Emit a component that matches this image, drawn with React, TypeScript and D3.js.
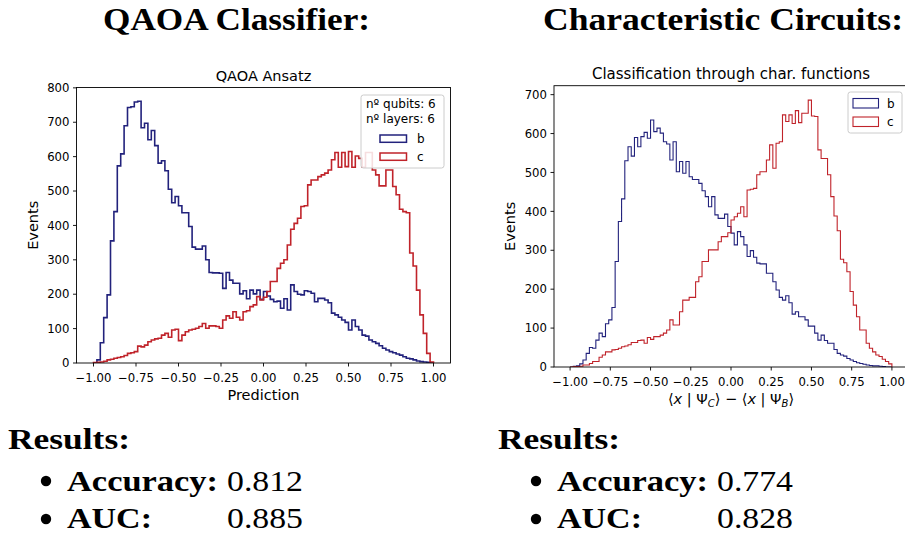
import React from "react";
import * as d3 from "d3";

// Histogram binning: 100 equal bins on [-1, 1]
const BIN_RANGE: [number, number] = [-1, 1];
const BIN_COUNT = 100;

// QAOA ansatz predictions, class b and class c (counts per bin)
const qaoaB = [
  0, 9, 59, 132, 198, 355, 440, 573, 608, 690,
  743, 745, 759, 761, 684, 697, 649, 676, 632, 581,
  588, 559, 505, 466, 484, 457, 437, 437, 397, 337,
  331, 331, 340, 300, 263, 262, 262, 261, 217, 263,
  241, 232, 232, 201, 210, 187, 212, 201, 212, 185,
  208, 195, 185, 178, 180, 159, 187, 154, 227, 208,
  200, 198, 210, 208, 203, 178, 188, 188, 183, 175,
  145, 140, 133, 125, 118, 96, 125, 106, 96, 81,
  78, 67, 62, 57, 50, 43, 38, 33, 30, 26,
  23, 18, 14, 12, 9, 6, 4, 3, 2, 0,
];
const qaoaC = [
  1, 2, 3, 5, 9, 11, 14, 16, 18, 22,
  28, 30, 33, 49, 47, 52, 62, 67, 70, 72,
  81, 86, 75, 96, 98, 65, 81, 91, 96, 98,
  101, 106, 115, 101, 108, 108, 106, 101, 125, 137,
  130, 149, 133, 125, 149, 152, 164, 169, 193, 183,
  191, 208, 237, 237, 275, 290, 300, 343, 389, 406,
  421, 455, 457, 518, 532, 532, 542, 547, 552, 561,
  591, 612, 569, 612, 571, 615, 569, 602, 595, 569,
  612, 612, 561, 547, 515, 515, 561, 561, 513, 489,
  447, 440, 437, 320, 282, 212, 140, 86, 28, 3,
];

// Characteristic-function classifier, class b and class c
const charB = [
  0, 2, 3, 8, 18, 35, 50, 48, 69, 87,
  78, 111, 121, 153, 271, 374, 432, 530, 566, 542,
  590, 566, 592, 603, 588, 635, 605, 614, 601, 579,
  573, 532, 579, 502, 528, 498, 528, 489, 482, 482,
  472, 453, 438, 412, 438, 391, 382, 382, 393, 361,
  344, 314, 348, 335, 314, 284, 299, 282, 267, 265,
  265, 241, 241, 219, 198, 179, 172, 183, 165, 136,
  142, 129, 129, 121, 105, 105, 87, 69, 82, 68,
  61, 61, 45, 35, 31, 28, 22, 18, 14, 11,
  9, 7, 5, 4, 3, 3, 2, 1, 0, 0,
];
const charC = [
  0, 1, 1, 2, 5, 5, 9, 14, 14, 25,
  31, 39, 39, 44, 45, 48, 52, 54, 57, 63,
  63, 68, 69, 61, 76, 71, 78, 78, 82, 87,
  95, 121, 108, 108, 142, 172, 172, 179, 179, 219,
  232, 271, 271, 301, 301, 301, 322, 335, 335, 345,
  378, 386, 395, 412, 386, 455, 457, 459, 494, 502,
  502, 532, 571, 511, 575, 579, 648, 631, 648, 626,
  659, 628, 652, 652, 686, 645, 644, 558, 536, 536,
  494, 438, 388, 350, 277, 268, 245, 194, 159, 129,
  95, 95, 61, 48, 39, 31, 27, 20, 14, 8,
];

const xTicks = [-1, -0.75, -0.5, -0.25, 0, 0.25, 0.5, 0.75, 1];
const qaoaYTicks = [0, 100, 200, 300, 400, 500, 600, 700, 800];
const charYTicks = [0, 100, 200, 300, 400, 500, 600, 700];

const seriesLabels = ["b", "c"];
const legendNotes = ["nº qubits: 6", "nº layers: 6"];

const BLUE = "#22227c";
const RED = "#c0232a";
const SANS = "'DejaVu Sans', sans-serif";
const SERIF = "'Liberation Serif', 'DejaVu Serif', serif";

const fmt = d3.format(".2f");

function stepPoints(counts: number[]): [number, number][] {
  const w = (BIN_RANGE[1] - BIN_RANGE[0]) / BIN_COUNT;
  const pts: [number, number][] = [[BIN_RANGE[0], 0]];
  counts.forEach((c, i) => {
    const x0 = BIN_RANGE[0] + i * w;
    pts.push([x0, c], [x0 + w, c]);
  });
  pts.push([BIN_RANGE[1], 0]);
  return pts;
}

type PanelProps = {
  id: string;
  left: number;
  right: number;
  top: number;
  bottom: number;
  yMax: number;
  yTicks: number[];
  b: number[];
  c: number[];
  lineWidth: number;
  title: string;
  titleSize: number;
  xLabel: React.ReactNode;
  yLabelX: number;
};

function Panel(p: PanelProps) {
  const x = d3.scaleLinear().domain([-1.1, 1.1]).range([p.left, p.right]);
  const y = d3.scaleLinear().domain([0, p.yMax]).range([p.bottom, p.top]);
  const line = d3
    .line<[number, number]>()
    .x((d) => x(d[0]))
    .y((d) => y(d[1]));
  const clipId = `clip-${p.id}`;
  const cx = (p.left + p.right) / 2;
  return (
    <g>
      <defs>
        <clipPath id={clipId}>
          <rect x={p.left} y={p.top} width={p.right - p.left} height={p.bottom - p.top} />
        </clipPath>
      </defs>
      <g clipPath={`url(#${clipId})`} fill="none" strokeLinejoin="miter">
        <path d={line(stepPoints(p.b)) || ""} stroke={BLUE} strokeWidth={p.lineWidth} />
        <path d={line(stepPoints(p.c)) || ""} stroke={RED} strokeWidth={p.lineWidth} />
      </g>
      <rect
        x={p.left}
        y={p.top}
        width={p.right - p.left}
        height={p.bottom - p.top}
        fill="none"
        stroke="#000"
        strokeWidth={0.9}
      />
      {xTicks.map((t) => (
        <g key={`x${t}`}>
          <line x1={x(t)} x2={x(t)} y1={p.bottom} y2={p.bottom + 3.5} stroke="#000" strokeWidth={0.9} />
          <text x={x(t)} y={p.bottom + 18.5} textAnchor="middle" fontFamily={SANS} fontSize={11.7}>
            {fmt(t)}
          </text>
        </g>
      ))}
      {p.yTicks.map((t) => (
        <g key={`y${t}`}>
          <line x1={p.left - 3.5} x2={p.left} y1={y(t)} y2={y(t)} stroke="#000" strokeWidth={0.9} />
          <text x={p.left - 7} y={y(t)} dy="0.36em" textAnchor="end" fontFamily={SANS} fontSize={11.7}>
            {t}
          </text>
        </g>
      ))}
      <text x={cx} y={p.top - 7} textAnchor="middle" fontFamily={SANS} fontSize={p.titleSize}>
        {p.title}
      </text>
      <text x={cx} y={p.bottom + 37} textAnchor="middle" fontFamily={SANS} fontSize={14.5}>
        {p.xLabel}
      </text>
      <text
        transform={`translate(${p.yLabelX},${(p.top + p.bottom) / 2}) rotate(-90)`}
        textAnchor="middle"
        fontFamily={SANS}
        fontSize={14.5}
      >
        Events
      </text>
    </g>
  );
}

function ResultsBlock({ dx, acc, auc }: { dx: number; acc: string; auc: string }) {
  return (
    <g fontFamily={SERIF} fontSize={30}>
      <text x={8 + dx} y={449} fontWeight="bold" textLength={122} lengthAdjust="spacingAndGlyphs">
        Results:
      </text>
      <circle cx={46 + dx} cy={481} r={5.2} fill="#000" />
      <text x={67 + dx} y={491} fontWeight="bold" textLength={151} lengthAdjust="spacingAndGlyphs">
        Accuracy:
      </text>
      <text x={227 + dx} y={491} textLength={76} lengthAdjust="spacingAndGlyphs">
        {acc}
      </text>
      <circle cx={46 + dx} cy={519} r={5.2} fill="#000" />
      <text x={67 + dx} y={528} fontWeight="bold" textLength={85} lengthAdjust="spacingAndGlyphs">
        AUC:
      </text>
      <text x={227 + dx} y={528} textLength={76} lengthAdjust="spacingAndGlyphs">
        {auc}
      </text>
    </g>
  );
}

const charXLabel = (
  <>
    {"⟨"}
    <tspan fontStyle="italic">x</tspan>
    {" | Ψ"}
    <tspan fontStyle="italic" fontSize={10} dy={3}>
      C
    </tspan>
    <tspan dy={-3}>{"⟩ − ⟨"}</tspan>
    <tspan fontStyle="italic">x</tspan>
    {" | Ψ"}
    <tspan fontStyle="italic" fontSize={10} dy={3}>
      B
    </tspan>
    <tspan dy={-3}>{"⟩"}</tspan>
  </>
);

export default function App() {
  return (
    <svg
      width={905}
      height={535}
      viewBox="0 0 905 535"
      style={{ position: "absolute", left: 0, top: 0, background: "#fff" }}
    >
      <rect width={905} height={535} fill="#fff" />
      <text x={103} y={30} fontFamily={SERIF} fontWeight="bold" fontSize={32} textLength={267} lengthAdjust="spacingAndGlyphs">
        QAOA Classifier:
      </text>
      <text x={543} y={30} fontFamily={SERIF} fontWeight="bold" fontSize={32} textLength={360} lengthAdjust="spacingAndGlyphs">
        Characteristic Circuits:
      </text>

      <Panel
        id="qaoa"
        left={76.5}
        right={450.5}
        top={87.5}
        bottom={363}
        yMax={801}
        yTicks={qaoaYTicks}
        b={qaoaB}
        c={qaoaC}
        lineWidth={1.6}
        title="QAOA Ansatz"
        titleSize={14.5}
        xLabel="Prediction"
        yLabelX={38}
      />
      {/* QAOA legend */}
      <g fontFamily={SANS} fontSize={12}>
        <rect x={361} y={95} width={83} height={73} rx={2.5} fill="#fff" fillOpacity={0.85} stroke="#cccccc" />
        {legendNotes.map((n, i) => (
          <text key={n} x={366} y={108 + i * 15}>
            {n}
          </text>
        ))}
        {seriesLabels.map((s, i) => (
          <g key={s}>
            <rect x={380} y={135 + i * 18} width={26.5} height={7.3} fill="none" stroke={i === 0 ? BLUE : RED} strokeWidth={1.5} />
            <text x={417} y={143 + i * 18}>
              {s}
            </text>
          </g>
        ))}
      </g>

      <Panel
        id="char"
        left={554}
        right={908}
        top={85.7}
        bottom={367}
        yMax={723}
        yTicks={charYTicks}
        b={charB}
        c={charC}
        lineWidth={1.1}
        title="Classification through char. functions"
        titleSize={15}
        xLabel={charXLabel}
        yLabelX={515}
      />
      {/* characteristic-circuit legend */}
      <g fontFamily={SANS} fontSize={12}>
        <rect x={848} y={92} width={54} height={41} rx={2.5} fill="#fff" fillOpacity={0.85} stroke="#cccccc" />
        {seriesLabels.map((s, i) => (
          <g key={s}>
            <rect x={853} y={98.5 + i * 18.5} width={25.5} height={9.5} fill="none" stroke={i === 0 ? BLUE : RED} strokeWidth={1.1} />
            <text x={887} y={107.5 + i * 18.5}>
              {s}
            </text>
          </g>
        ))}
      </g>

      <ResultsBlock dx={0} acc="0.812" auc="0.885" />
      <ResultsBlock dx={490} acc="0.774" auc="0.828" />
    </svg>
  );
}
